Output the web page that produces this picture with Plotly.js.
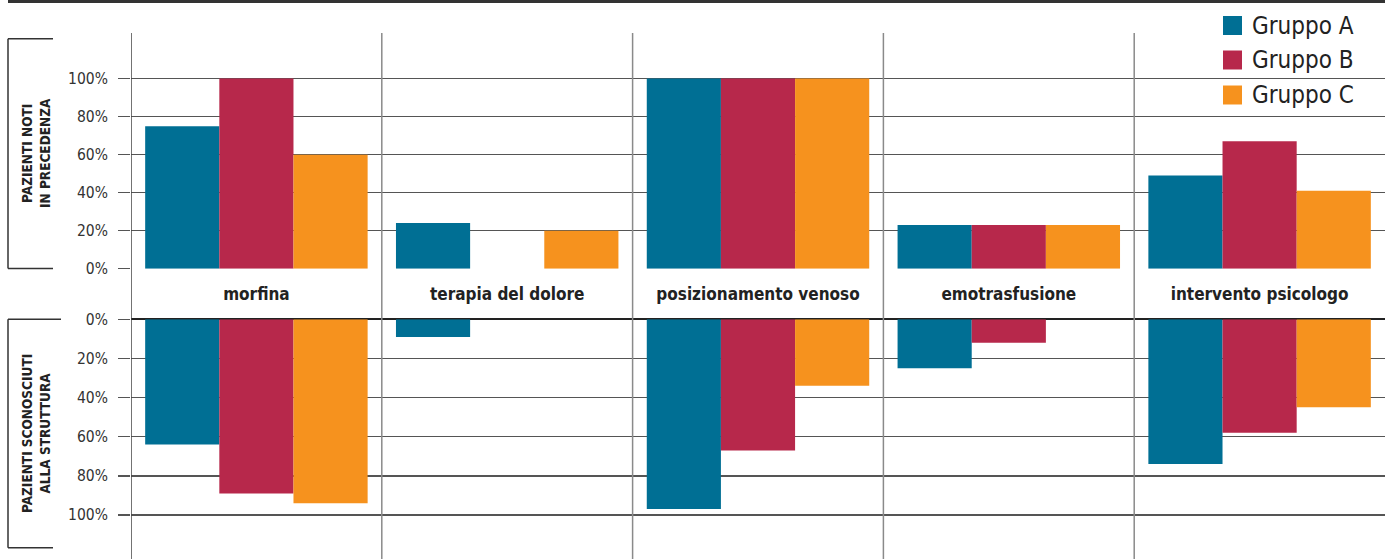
<!DOCTYPE html>
<html>
<head>
<meta charset="utf-8">
<script src="https://cdn.plot.ly/plotly-3.0.1.min.js"></script>
<style>html,body{margin:0;padding:0;background:#fff;}#chart{width:1391px;height:559px;}</style>
</head>
<body>
<div id="chart"></div>
<script>
// ---- data ----
var categories = ['morfina', 'terapia del dolore', 'posizionamento venoso', 'emotrasfusione', 'intervento psicologo'];
var groupNames = ['Gruppo A', 'Gruppo B', 'Gruppo C'];
// pazienti noti in precedenza (%)
var notiA = [75, 24, 100, 23, 49];
var notiB = [100, 0, 100, 23, 67];
var notiC = [60, 20, 100, 23, 41];
// pazienti sconosciuti alla struttura (%)
var sconA = [64, 9, 97, 25, 74];
var sconB = [89, 0, 67, 12, 58];
var sconC = [94, 0, 34, 0, 45];
var tickValues = [0, 20, 40, 60, 80, 100];
var tickLabels = ['0%', '20%', '40%', '60%', '80%', '100%'];
var panelTitles = ['PAZIENTI NOTI<br>IN PRECEDENZA', 'PAZIENTI SCONOSCIUTI<br>ALLA STRUTTURA'];

// ---- style ----
var colors = ['#006F94', '#B7284B', '#F6921E'];
var FONT = 'Liberation Sans Narrow, Arial Narrow, DejaVu Sans Condensed, sans-serif';
var W = 1391, H = 559, ML = 131, MR = 6, MT = 33, MB = 0;
var PW = W - ML - MR, PH = H - MT - MB;
function fx(px) { return (px - ML) / PW; }
function fy(py) { return (H - MB - py) / PH; }

var notiSeries = [notiA, notiB, notiC];
var sconSeries = [sconA, sconB, sconC];
var traces = [];
groupNames.forEach(function (g, i) {
  traces.push({type: 'bar', name: g, x: categories, y: notiSeries[i], xaxis: 'x', yaxis: 'y',
    marker: {color: colors[i], line: {width: 0}}, showlegend: false, hoverinfo: 'skip'});
});
groupNames.forEach(function (g, i) {
  traces.push({type: 'bar', name: g, x: categories, y: sconSeries[i], xaxis: 'x2', yaxis: 'y2',
    marker: {color: colors[i], line: {width: 0}}, showlegend: false, hoverinfo: 'skip'});
});

var yCommon = {
  tickmode: 'array', tickvals: tickValues, ticktext: tickLabels,
  showgrid: true, gridcolor: '#555', gridwidth: 1.4,
  ticks: 'outside', ticklen: 12, tickcolor: '#555', tickwidth: 1.4,
  ticklabelstandoff: 7,
  tickfont: {family: FONT, size: 15.5, color: '#333'},
  showline: false, fixedrange: true
};

var layout = {
  width: W, height: H,
  margin: {l: ML, r: MR, t: MT, b: MB, pad: 0},
  paper_bgcolor: '#fff', plot_bgcolor: '#fff',
  barmode: 'group', bargap: 0.113, bargroupgap: 0,
  showlegend: false,
  xaxis: {domain: [0, 1], anchor: 'y', type: 'category', range: [-0.5, 4.5],
    showgrid: false, zeroline: false, showline: false, ticks: '',
    ticklabelstandoff: 13,
    tickfont: {family: FONT, size: 17, color: '#222', weight: 700}, fixedrange: true},
  xaxis2: {domain: [0, 1], anchor: 'y2', type: 'category', range: [-0.5, 4.5], matches: 'x',
    showgrid: false, zeroline: false, showline: false, ticks: '', showticklabels: false, fixedrange: true},
  yaxis: Object.assign({}, yCommon, {domain: [fy(268.7), 1], anchor: 'x', range: [0, 124], zeroline: false}),
  yaxis2: Object.assign({}, yCommon, {domain: [0, fy(319.3)], anchor: 'x2', range: [122.5, 0],
    zeroline: true, zerolinecolor: '#222', zerolinewidth: 1.6}),
  shapes: [],
  annotations: []
};

// vertical separators at category boundaries
categories.forEach(function (c, i) {
  layout.shapes.push({type: 'line', xref: 'x', yref: 'paper', x0: i - 0.5, x1: i - 0.5, y0: 0, y1: 1,
    layer: 'above', line: {color: i === 0 ? '#444' : '#8a8a8a', width: 1.5}});
});
// top rule
layout.shapes.push({type: 'line', xref: 'paper', yref: 'paper', x0: fx(8), x1: fx(1385), y0: fy(1.5), y1: fy(1.5),
  line: {color: '#333', width: 3}});
// brackets
function bracket(yTop, yBot, xRightTop, xRightBot) {
  layout.shapes.push({type: 'line', xref: 'paper', yref: 'paper', x0: fx(8), x1: fx(8), y0: fy(yTop), y1: fy(yBot), line: {color: '#333', width: 1.5}});
  layout.shapes.push({type: 'line', xref: 'paper', yref: 'paper', x0: fx(8), x1: fx(xRightTop), y0: fy(yTop), y1: fy(yTop), line: {color: '#333', width: 1.5}});
  layout.shapes.push({type: 'line', xref: 'paper', yref: 'paper', x0: fx(8), x1: fx(xRightBot), y0: fy(yBot), y1: fy(yBot), line: {color: '#333', width: 1.5}});
}
bracket(38.7, 268.5, 53, 53);
bracket(319.3, 547.7, 61, 53);

// panel titles
layout.annotations.push({xref: 'paper', yref: 'paper', x: fx(36), y: fy(153), text: panelTitles[0], showarrow: false,
  textangle: -90, xanchor: 'center', yanchor: 'middle', align: 'center',
  font: {family: FONT, size: 13.5, color: '#222', weight: 700}});
layout.annotations.push({xref: 'paper', yref: 'paper', x: fx(36), y: fy(434), text: panelTitles[1], showarrow: false,
  textangle: -90, xanchor: 'center', yanchor: 'middle', align: 'center',
  font: {family: FONT, size: 13.5, color: '#222', weight: 700}});

// legend (manual, larger swatches)
var legY = [25.5, 60, 95];
groupNames.forEach(function (g, i) {
  layout.shapes.push({type: 'rect', xref: 'paper', yref: 'paper', x0: fx(1223), x1: fx(1242),
    y0: fy(legY[i] + 9.5), y1: fy(legY[i] - 9.5), fillcolor: colors[i], line: {width: 0}});
  layout.annotations.push({xref: 'paper', yref: 'paper', x: fx(1250), y: fy(legY[i]), text: g, showarrow: false,
    xanchor: 'left', yanchor: 'middle', font: {family: FONT, size: 24, color: '#222'}});
});

Plotly.newPlot('chart', traces, layout, {displayModeBar: false, staticPlot: true});
</script>
</body>
</html>
